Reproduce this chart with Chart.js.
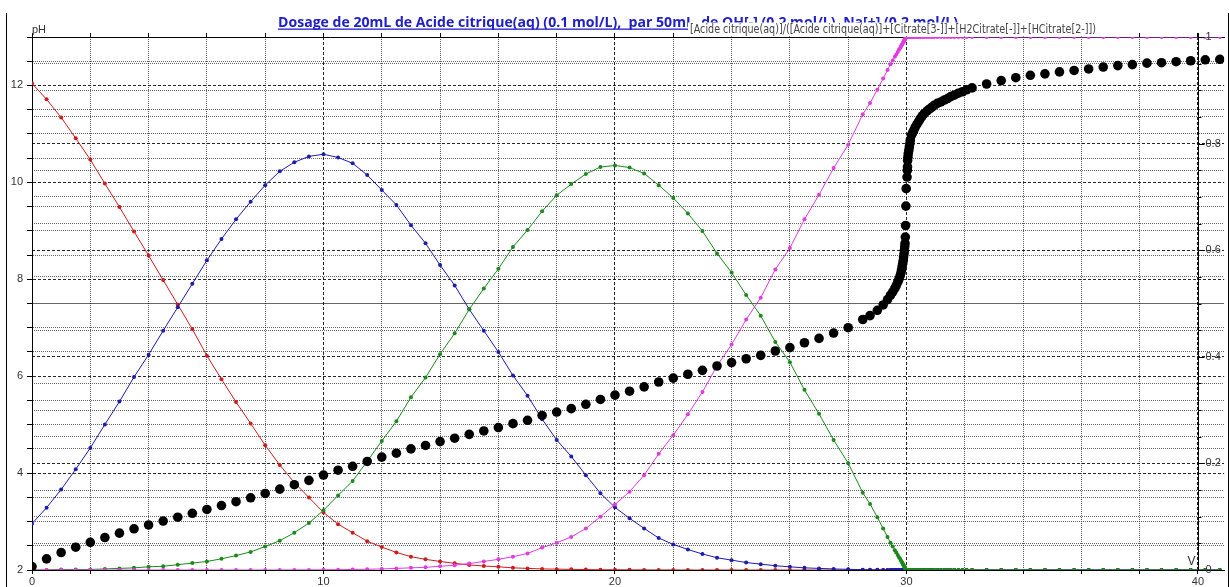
<!DOCTYPE html>
<html><head><meta charset="utf-8">
<script src="https://cdn.jsdelivr.net/npm/chart.js@4.4.1/dist/chart.umd.min.js"></script>
<style>html,body{margin:0;padding:0;background:#fff;overflow:hidden}canvas{display:block}</style>
</head><body>
<canvas id="c" width="1229" height="587"></canvas>
<script>
// ---- data ----
const volumes = [
 0,0.5,1,1.5,2,2.5,3,3.5,4,4.5,5,5.5,6,6.5,7,7.5,8,8.5,9,9.5,10,10.5,11,11.5,12,12.5,13,13.5,14,14.5,15,15.5,16,16.5,17,17.5,18,18.5,19,19.5,20,20.5,21,21.5,22,22.5,23,23.5,24,24.5,25,25.5,26,26.5,27,27.5,28,
 28.5,28.75,29,29.2,29.35,29.45,29.53,29.6,29.65,29.7,29.74,29.78,29.81,29.83,29.85,29.87,29.89,29.9,29.92,29.93,29.94,29.95,29.96,29.97,29.98,29.99,
 30.02,30.03,30.035,30.04,30.05,30.06,30.08,30.1,30.12,30.13,30.17,30.21,30.25,30.3,30.36,30.42,30.47,30.54,30.61,30.7,30.78,30.87,30.95,31.06,31.18,31.3,31.41,31.52,31.64,31.78,31.92,32.06,32.25,
 32.75,33.25,33.75,34.25,34.75,35.25,35.75,36.25,36.75,37.25,37.75,38.25,38.75,39.25,39.75,40.25,40.75
];
const pH = [
 2.07,2.23,2.36,2.47,2.57,2.67,2.76,2.85,2.93,3.01,3.09,3.17,3.25,3.33,3.41,3.49,3.58,3.67,3.76,3.85,3.96,4.06,4.14,4.24,4.33,4.41,4.50,4.57,4.65,4.72,4.80,4.87,4.94,5.02,5.09,5.19,5.26,5.33,5.42,5.52,5.61,5.69,5.78,5.88,5.96,6.04,6.12,6.21,6.28,6.36,6.43,6.52,6.59,6.69,6.78,6.89,7.00,
 7.17,7.25,7.36,7.47,7.58,7.67,7.74,7.81,7.87,7.94,8.00,8.07,8.13,8.19,8.26,8.32,8.39,8.46,8.53,8.60,8.67,8.74,8.87,9.11,9.51,9.87,
 10.11,10.25,10.32,10.45,10.52,10.59,10.66,10.73,10.80,10.87,10.97,11.02,11.07,11.14,11.20,11.26,11.31,11.37,11.42,11.47,11.51,11.55,11.59,11.63,11.66,11.70,11.73,11.77,11.80,11.84,11.87,11.91,11.95,
 12.03,12.10,12.16,12.21,12.24,12.28,12.31,12.34,12.38,12.41,12.43,12.46,12.47,12.49,12.51,12.53,12.54
];
// fraction of Acide citrique (H3Cit) - red
const fracAcid = [
 0.913,0.883,0.849,0.810,0.770,0.725,0.681,0.635,0.590,0.544,0.498,0.452,0.402,0.358,0.315,0.275,0.234,0.197,0.164,0.136,0.108,0.086,0.070,0.054,0.043,0.033,0.025,0.020,0.016,0.0125,0.0095,0.0075,0.006,0.004,0.003,0.002,0.0016,0.0012,0.0008,0.0005,0.0004,0.0003,0.0002,0.0001,0.0001,0,0,0,0,0,0,0,0,0,0,0,0,
 0,0,0,0,0,0,0,0,0,0,0,0,0,0,0,0,0,0,0,0,0,0,0,0,0,0,
 0,0,0,0,0,0,0,0,0,0,0,0,0,0,0,0,0,0,0,0,0,0,0,0,0,0,0,0,0,0,0,0,0,
 0,0,0,0,0,0,0,0,0,0,0,0,0,0,0,0,0
];
// fraction of H2Citrate[-] - blue
const fracH2Cit = [
 0.087,0.117,0.151,0.189,0.229,0.273,0.316,0.362,0.404,0.449,0.493,0.537,0.581,0.621,0.658,0.691,0.722,0.748,0.765,0.776,0.780,0.774,0.763,0.741,0.713,0.685,0.647,0.613,0.572,0.534,0.489,0.449,0.409,0.365,0.327,0.283,0.244,0.213,0.178,0.144,0.1175,0.097,0.078,0.060,0.048,0.0385,0.030,0.023,0.0185,0.014,0.011,0.008,0.006,0.004,0.003,0.002,0.0013,
 0.0006,0.0004,0.0003,0.0002,0.0001,0.0001,0,0,0,0,0,0,0,0,0,0,0,0,0,0,0,0,0,0,0,0,
 0,0,0,0,0,0,0,0,0,0,0,0,0,0,0,0,0,0,0,0,0,0,0,0,0,0,0,0,0,0,0,0,0,
 0,0,0,0,0,0,0,0,0,0,0,0,0,0,0,0,0
];
// fraction of HCitrate[2-] - green
const fracHCit = [
 0,0,0.001,0.001,0.001,0.002,0.003,0.004,0.006,0.007,0.010,0.013,0.016,0.021,0.027,0.034,0.044,0.055,0.070,0.088,0.112,0.140,0.167,0.204,0.242,0.279,0.324,0.361,0.405,0.444,0.489,0.528,0.565,0.606,0.638,0.673,0.703,0.724,0.743,0.756,0.759,0.755,0.744,0.722,0.698,0.669,0.636,0.594,0.558,0.516,0.477,0.428,0.390,0.338,0.293,0.244,0.2005,
 0.145,0.124,0.099,0.078,0.062,0.051,0.044,0.037,0.033,0.028,0.024,0.021,0.018,0.016,0.014,0.012,0.010,0.009,0.007,0.006,0.005,0.0045,0.003,0.002,0.001,0,
 0,0,0,0,0,0,0,0,0,0,0,0,0,0,0,0,0,0,0,0,0,0,0,0,0,0,0,0,0,0,0,0,0,
 0,0,0,0,0,0,0,0,0,0,0,0,0,0,0,0,0
];
// fraction of Citrate[3-] - magenta
const fracCit = [
 0,0,0,0,0,0,0,0,0,0,0,0,0,0,0,0,0,0,0.0002,0.0002,0.0004,0.0006,0.001,0.0014,0.002,0.003,0.004,0.005,0.007,0.009,0.012,0.016,0.020,0.025,0.031,0.042,0.051,0.062,0.078,0.100,0.123,0.147,0.178,0.218,0.253,0.292,0.334,0.383,0.423,0.470,0.511,0.564,0.604,0.658,0.704,0.754,0.798,
 0.855,0.876,0.901,0.922,0.938,0.949,0.956,0.963,0.967,0.972,0.976,0.979,0.982,0.984,0.986,0.988,0.990,0.991,0.993,0.994,0.995,0.9955,0.997,0.998,0.999,1,
 1,1,1,1,1,1,1,1,1,1,1,1,1,1,1,1,1,1,1,1,1,1,1,1,1,1,1,1,1,1,1,1,1,
 1,1,1,1,1,1,1,1,1,1,1,1,1,1,1,1,1
];
const xTickLabels = [0,10,20,30,40];
const pHTickLabels = [2,4,6,8,10,12];
const fracTickLabels = [0,0.2,0.4,0.6,0.8,1];
const titleText = 'Dosage de 20mL de Acide citrique(aq) (0.1 mol/L),  par 50mL  de OH[-] (0.2 mol/L), Na[+] (0.2 mol/L)';
const curveLabel = '[Acide citrique(aq)]/([Acide citrique(aq)]+[Citrate[3-]]+[H2Citrate[-]]+[HCitrate[2-]])';
const yLeftName = 'pH';
const xName = 'V';

// ---- helpers ----
const pts = arr => volumes.map((v, i) => ({x: v, y: arr[i]}));
const isMult = (v, s) => Math.abs(v / s - Math.round(v / s)) < 1e-6;
const TICK_FONT = {family: '"Liberation Sans", Arial, sans-serif', size: 11};

function colored(label, arr, color) {
  return {label, data: pts(arr), yAxisID: 'y1', showLine: true, borderColor: color, borderWidth: 1,
    pointRadius: 2, pointHoverRadius: 2, pointBackgroundColor: color, pointBorderWidth: 0, tension: 0};
}

const decor = {
  id: 'decor',
  afterDraw(chart) {
    const {ctx, chartArea: ca, scales} = chart;
    const xs = scales.x, yr = scales.y1;
    const xr = Math.round(xs.getPixelForValue(40)) + 0.5;
    ctx.save();
    // frame lines
    ctx.strokeStyle = '#000'; ctx.lineWidth = 1;
    ctx.beginPath(); ctx.moveTo(1228.5, 13); ctx.lineTo(1228.5, 587); ctx.stroke();
    ctx.beginPath(); ctx.moveTo(6.5, 13); ctx.lineTo(6.5, 587); ctx.stroke();
    // right axis (fractions) at V = 40
    ctx.beginPath(); ctx.moveTo(xr, ca.top - 4); ctx.lineTo(xr, ca.bottom); ctx.stroke();
    yr.ticks.forEach(t => {
      const y = Math.round(yr.getPixelForValue(t.value)) + 0.5;
      const major = isMult(t.value, 0.2);
      ctx.beginPath(); ctx.moveTo(xr, y); ctx.lineTo(xr + (major ? 6 : 3), y); ctx.stroke();
    });
    ctx.font = '11px "Liberation Sans", Arial, sans-serif';
    ctx.fillStyle = '#333'; ctx.textAlign = 'left'; ctx.textBaseline = 'middle';
    fracTickLabels.forEach(v => ctx.fillText(String(v), xr + 7, yr.getPixelForValue(v)));
    // axis names
    ctx.textBaseline = 'alphabetic';
    ctx.fillText(yLeftName, ca.left, ca.top - 4);
    ctx.textAlign = 'right';
    ctx.font = '12px "Liberation Sans", Arial, sans-serif';
    ctx.fillText(xName, xr - 3, ca.bottom - 5);
    // title (blue, bold, underlined)
    ctx.textAlign = 'left';
    ctx.font = 'bold 14px "Open Sans", "DejaVu Sans", sans-serif';
    const tw = ctx.measureText(titleText).width;
    const titleW = 680, tx = 278, ty = 27;
    ctx.fillStyle = '#2020c8';
    ctx.save(); ctx.translate(tx, ty); ctx.scale(titleW / tw, 1); ctx.fillText(titleText, 0, 0); ctx.restore();
    ctx.fillRect(tx, ty + 1.5, titleW, 1.3);
    // curve label over the title, on a white box
    ctx.fillStyle = '#fff';
    ctx.fillRect(688, 22.5, 412, ca.top - 23);
    ctx.font = '13px "DejaVu Sans Condensed", "Liberation Sans Narrow", sans-serif';
    const lw = ctx.measureText(curveLabel).width;
    ctx.fillStyle = '#444';
    ctx.save(); ctx.translate(690, 33); ctx.scale(406 / lw, 1); ctx.fillText(curveLabel, 0, 0); ctx.restore();
    ctx.restore();
  }
};

new Chart(document.getElementById('c'), {
  type: 'scatter',
  data: {
    datasets: [
      {label: 'pH', data: pts(pH), yAxisID: 'y', showLine: false, pointRadius: 4.8, pointHoverRadius: 4.8,
       pointBackgroundColor: '#000', pointBorderWidth: 0},
      colored('Citrate[3-]', fracCit, '#e03ce0'),
      colored('HCitrate[2-]', fracHCit, '#1b8a1b'),
      colored('H2Citrate[-]', fracH2Cit, '#1c1caf'),
      colored('Acide citrique(aq)', fracAcid, '#cc1c1c')
    ]
  },
  options: {
    responsive: false, animation: false, devicePixelRatio: 1,
    layout: {padding: {top: 37, left: 0, right: 1, bottom: 0}},
    plugins: {legend: {display: false}, tooltip: {enabled: false}, title: {display: false}},
    scales: {
      x: {
        type: 'linear', position: 'bottom', min: 0, max: 40.9,
        afterFit: s => { s.height = 17; },
        ticks: {stepSize: 2, includeBounds: false, autoSkip: false, maxRotation: 0, padding: 1,
          color: '#333', font: TICK_FONT,
          callback: v => xTickLabels.includes(v) ? String(v) : ''},
        grid: {color: c => (c.tick && isMult(c.tick.value, 10)) ? 'rgba(0,0,0,0.85)' : 'rgba(0,0,0,0.65)',
          tickLength: 4, tickColor: '#000'},
        border: {display: true, color: '#000', width: 1,
          dash: c => (c.tick && isMult(c.tick.value, 10)) ? [3, 2] : [1, 1]}
      },
      x2: {
        type: 'linear', position: 'top', min: 0, max: 40.9,
        afterFit: s => { s.height = 0; },
        ticks: {display: false, stepSize: 2, includeBounds: false},
        grid: {drawOnChartArea: false, drawTicks: true, tickLength: 4, tickColor: '#000'},
        border: {display: true, color: '#000', width: 1}
      },
      y: {
        type: 'linear', position: 'left', min: 2, max: 13,
        afterFit: s => { s.width = 32; },
        ticks: {stepSize: 0.5, includeBounds: false, autoSkip: false, padding: 4, color: '#333', font: TICK_FONT,
          callback: v => pHTickLabels.includes(v) ? String(v) : ''},
        grid: {color: c => (c.tick && isMult(c.tick.value, 2)) ? 'rgba(0,0,0,0.85)' : 'rgba(0,0,0,0.6)',
          tickLength: 5, tickColor: '#000'},
        border: {display: true, color: '#000', width: 1,
          dash: c => (c.tick && isMult(c.tick.value, 2)) ? [3, 2] : [1, 1]}
      },
      y1: {
        type: 'linear', position: 'right', min: 0, max: 1,
        afterFit: s => { s.width = 0; },
        ticks: {display: false, stepSize: 0.05, includeBounds: false},
        grid: {drawTicks: false, color: c => (c.tick && isMult(c.tick.value, 0.2)) ? 'rgba(0,0,0,0.85)' : 'rgba(0,0,0,0.6)'},
        border: {display: false,
          dash: c => (c.tick && isMult(c.tick.value, 0.2)) ? [3, 2] : [1, 1]}
      }
    }
  },
  plugins: [decor]
});
</script>
</body></html>
